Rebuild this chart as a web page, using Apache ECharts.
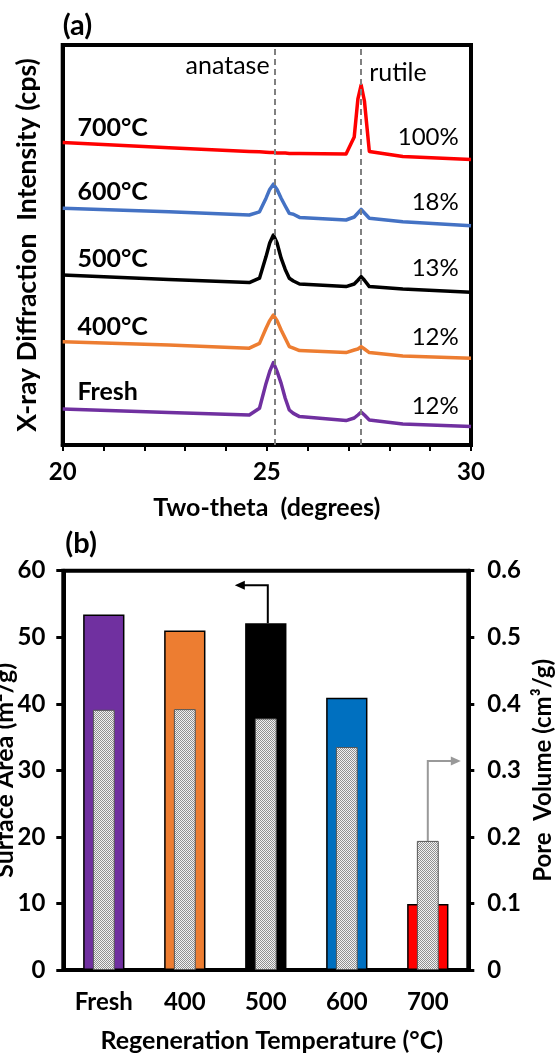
<!DOCTYPE html>
<html lang="en">
<head>
    <meta charset="UTF-8">
    <title>XRD patterns and BET surface area / pore volume</title>
    <script src="https://cdn.jsdelivr.net/npm/echarts@6/dist/echarts.min.js"></script>
    <style>
        * { margin: 0; padding: 0; box-sizing: border-box; }
        body { background: #fff; }
        #main { width: 556px; height: 1054px; }
    </style>
</head>
<body>
    <div id="main"></div>

    <script>
        // ---- panel (a): XRD curves ----
        const twoTheta = [20.0, 22.6, 24.57, 24.82, 24.98, 25.07, 25.16, 25.25, 25.35, 25.45, 25.55, 25.65, 25.8,
                          26.94, 27.14, 27.23, 27.31, 27.39, 27.51, 28.33, 30.0];
        const xrd700   = [75.6, 74.3, 73.4, 73.3, 73.2, 73.1, 73.1, 73.0, 73.0, 73.0, 72.9, 72.9, 72.9,
                          72.75, 77.0, 86.5, 90.0, 86.0, 73.4, 72.1, 71.4];
        const xrd600   = [59.2, 58.3, 57.5, 58.3, 61.7, 63.9, 65.2, 63.9, 61.7, 59.75, 57.9, 57.7, 56.9,
                          56.25, 57.0, 58.0, 58.9, 58.0, 56.7, 55.8, 54.8];
        const xrd500   = [42.5, 41.4, 40.6, 41.7, 47.1, 50.5, 52.5, 50.5, 46.7, 43.9, 41.7, 41.0, 40.25,
                          39.6, 40.25, 41.2, 42.1, 41.2, 39.6, 39.0, 38.2];
        const xrd400   = [25.8, 25.0, 24.2, 25.4, 29.2, 31.1, 32.5, 31.1, 28.75, 26.7, 24.6, 24.2, 23.6,
                          23.1, 23.75, 24.0, 24.6, 24.0, 23.1, 22.25, 21.7];
        const xrdFresh = [9.0, 8.1, 7.5, 9.2, 15.4, 18.4, 20.6, 18.4, 15.4, 11.7, 8.75, 7.9, 7.1,
                          6.1, 6.75, 7.5, 8.2, 7.5, 6.25, 5.25, 4.6];
        const curveNames  = ['700°C', '600°C', '500°C', '400°C', 'Fresh'];
        const rutileShare = ['100%', '18%', '13%', '12%', '12%'];
        const curveColors = ['#FF0000', '#4472C4', '#000000', '#ED7D31', '#7030A0'];
        const anataseLine = 25.19;
        const rutileLine = 27.31;

        // ---- panel (b): bars ----
        const categories  = ['Fresh', '400', '500', '600', '700'];
        const surfaceArea = [53.4, 51.0, 52.1, 40.9, 9.9];
        const poreVolume  = [0.391, 0.392, 0.378, 0.335, 0.194];
        const barColors   = ['#7030A0', '#ED7D31', '#000000', '#0070C0', '#FF0000'];

        const FONT = 'Lato';
        const chart = echarts.init(document.getElementById('main'));

        // small checker pattern for the pore volume bars
        const pat = document.createElement('canvas');
        pat.width = 2; pat.height = 2;
        const pctx = pat.getContext('2d');
        pctx.fillStyle = '#f2f2f2'; pctx.fillRect(0, 0, 2, 2);
        pctx.fillStyle = '#909090'; pctx.fillRect(0, 0, 1, 1); pctx.fillRect(1, 1, 1, 1);

        const xrdSets = [xrd700, xrd600, xrd500, xrd400, xrdFresh];
        const lineSeries = xrdSets.map((vals, i) => ({
            name: curveNames[i],
            type: 'line',
            xAxisIndex: 0,
            yAxisIndex: 0,
            data: twoTheta.map((t, k) => [t, vals[k]]),
            showSymbol: false,
            lineStyle: { color: curveColors[i], width: 3.5, join: 'round' },
            itemStyle: { color: curveColors[i] },
            silent: true,
            z: 3,
            markLine: i === 0 ? {
                silent: true,
                symbol: 'none',
                label: { show: false },
                lineStyle: { color: '#808080', type: [6, 4], width: 2 },
                data: [{ xAxis: anataseLine }, { xAxis: rutileLine }]
            } : undefined
        }));

        const bold = (size) => ({ fontFamily: FONT, fontWeight: 'bold', fontSize: size, color: '#000' });

        const option = {
            backgroundColor: '#fff',
            animation: false,
            textStyle: { fontFamily: FONT },
            grid: [
                { left: 62.7, top: 45, width: 408.3, height: 400, outerBoundsMode: 'none',
                  show: true, borderColor: '#000', borderWidth: 4, backgroundColor: 'transparent' },
                { left: 63.3, top: 570.7, width: 405, height: 399.3, outerBoundsMode: 'none',
                  show: true, borderColor: '#000', borderWidth: 4, backgroundColor: 'transparent' }
            ],
            xAxis: [
                {
                    type: 'value', gridIndex: 0, min: 20, max: 30, interval: 1,
                    axisLine: { show: true, lineStyle: { color: '#000', width: 4 } },
                    axisTick: { show: true, length: 6, lineStyle: { color: '#000', width: 2 } },
                    splitLine: { show: false },
                    axisLabel: Object.assign(bold(24), {
                        margin: 15,
                        formatter: v => (v % 5 === 0 ? String(v) : '')
                    }),
                    name: 'Two-theta  (degrees)',
                    nameLocation: 'middle',
                    nameGap: 50,
                    nameTextStyle: bold(25)
                },
                {
                    type: 'category', gridIndex: 1, data: categories,
                    axisLine: { show: true, onZero: false, lineStyle: { color: '#000', width: 4 } },
                    axisTick: { show: false },
                    axisLabel: Object.assign(bold(24), { margin: 20, interval: 0 }),
                    name: 'Regeneration Temperature (°C)',
                    nameLocation: 'middle',
                    nameGap: 58,
                    nameTextStyle: Object.assign(bold(25), { padding: [0, 0, 0, 12] })
                },
                {
                    type: 'category', gridIndex: 1, data: categories, show: false
                }
            ],
            yAxis: [
                {
                    type: 'value', gridIndex: 0, min: 0, max: 100,
                    axisLine: { show: true, lineStyle: { color: '#000', width: 4 } },
                    axisTick: { show: false },
                    axisLabel: { show: false },
                    splitLine: { show: false },
                    name: 'X-ray Diffraction  Intensity (cps)',
                    nameLocation: 'middle',
                    nameGap: 22,
                    nameTextStyle: bold(26.5)
                },
                {
                    type: 'value', gridIndex: 1, min: 0, max: 60, interval: 10, position: 'left', offset: 0,
                    axisLine: { show: true, onZero: false, lineStyle: { color: '#000', width: 4 } },
                    axisTick: { show: true, length: 7, lineStyle: { color: '#000', width: 3 } },
                    axisLabel: Object.assign(bold(24), { margin: 18 }),
                    splitLine: { show: false }
                },
                {
                    type: 'value', gridIndex: 1, min: 0, max: 0.6, interval: 0.1, position: 'right', offset: 0,
                    axisLine: { show: true, onZero: false, lineStyle: { color: '#000', width: 4 } },
                    axisTick: { show: true, length: 6, lineStyle: { color: '#000', width: 3 } },
                    axisLabel: Object.assign(bold(24), { margin: 19 }),
                    splitLine: { show: false },
                    name: 'Pore  Volume (cm³/g)',
                    nameLocation: 'middle',
                    nameGap: 60,
                    nameTextStyle: bold(24)
                }
            ],
            series: lineSeries.concat([
                {
                    name: 'Surface Area',
                    type: 'bar',
                    xAxisIndex: 1,
                    yAxisIndex: 1,
                    barWidth: '51%',
                    data: surfaceArea.map((v, i) => ({ value: v, itemStyle: { color: barColors[i] } })),
                    itemStyle: { borderColor: '#000', borderWidth: 1.5 },
                    silent: true,
                    z: 2
                },
                {
                    name: 'Pore Volume',
                    type: 'bar',
                    xAxisIndex: 2,
                    yAxisIndex: 2,
                    barWidth: '27%',
                    data: poreVolume,
                    itemStyle: {
                        color: { image: pat, repeat: 'repeat' },
                        borderColor: '#555',
                        borderWidth: 1
                    },
                    silent: true,
                    z: 3
                }
            ])
        };

        chart.setOption(option);

        // ---- annotations placed from data coordinates ----
        const gA = { xAxisIndex: 0, yAxisIndex: 0 };
        const nameAnchor = [79.3, 63.3, 46.5, 29.6, 13.2];     // intensity where each name sits
        const shareAnchor = [76.9, 60.8, 44.2, 26.9, 9.6];     // intensity where each % sits

        const txt = (x, y, text, font, align) => ({
            type: 'text', x: x, y: y, silent: true, z: 20,
            style: {
                text: text, font: font, fill: '#000',
                align: align, textAlign: align,
                verticalAlign: 'middle', textVerticalAlign: 'middle'
            }
        });

        const graphics = [];
        curveNames.forEach((n, i) => {
            const p = chart.convertToPixel(gA, [20.36, nameAnchor[i]]);
            graphics.push(txt(p[0], p[1], n, 'bold 25px ' + FONT, 'left'));
            const q = chart.convertToPixel(gA, [29.7, shareAnchor[i]]);
            graphics.push(txt(q[0], q[1], rutileShare[i], '24px ' + FONT, 'right'));
        });
        const pa = chart.convertToPixel(gA, [anataseLine, 94.75]);
        graphics.push(txt(pa[0] - 5, pa[1], 'anatase', '25px ' + FONT, 'right'));
        const pr = chart.convertToPixel(gA, [rutileLine, 93.1]);
        graphics.push(txt(pr[0] + 8, pr[1], 'rutile', '25px ' + FONT, 'left'));

        // panel letters
        const cornerA = chart.convertToPixel(gA, [20, 100]);
        graphics.push(txt(cornerA[0], cornerA[1] - 19, '(a)', 'bold 29px ' + FONT, 'left'));
        const gB1 = { xAxisIndex: 1, yAxisIndex: 1 };
        const topB = chart.convertToPixel(gB1, [0, 60])[1];
        graphics.push(txt(63.3 + 2, topB - 27, '(b)', 'bold 29px ' + FONT, 'left'));

        // left title of panel (b), partly cut by the page edge as in the source figure
        const midB = chart.convertToPixel(gB1, [0, 30]);
        const leftTitle = txt(5, midB[1], 'Surface Area (m²/g)', 'bold 25px ' + FONT, 'center');
        leftTitle.rotation = Math.PI / 2;
        graphics.push(leftTitle);

        // elbow arrows: surface area -> left axis, pore volume -> right axis
        function elbowArrow(from, levelY, dx, color) {
            const tipX = from[0] + dx;
            const dir = dx < 0 ? -1 : 1;
            graphics.push({
                type: 'polyline', silent: true, z: 20,
                shape: { points: [[from[0], from[1]], [from[0], levelY], [tipX - dir * 8, levelY]] },
                style: { stroke: color, lineWidth: 2, fill: null }
            });
            graphics.push({
                type: 'polygon', silent: true, z: 20,
                shape: { points: [[tipX, levelY], [tipX - dir * 10, levelY - 4.5], [tipX - dir * 10, levelY + 4.5]] },
                style: { fill: color }
            });
        }
        const gB2 = { xAxisIndex: 2, yAxisIndex: 2 };
        const aTop = chart.convertToPixel(gB1, ['500', surfaceArea[2]]);
        const aLevel = chart.convertToPixel(gB1, ['500', 57.8])[1];
        elbowArrow([aTop[0] + 2, aTop[1]], aLevel, -33, '#000');
        const pTop = chart.convertToPixel(gB2, ['700', poreVolume[4]]);
        const pLevel = chart.convertToPixel(gB2, ['700', 0.314])[1];
        elbowArrow(pTop, pLevel, 33, '#999999');

        chart.setOption({ graphic: graphics });

        window.addEventListener('resize', function () {
            chart.resize();
        });
    </script>
</body>
</html>
